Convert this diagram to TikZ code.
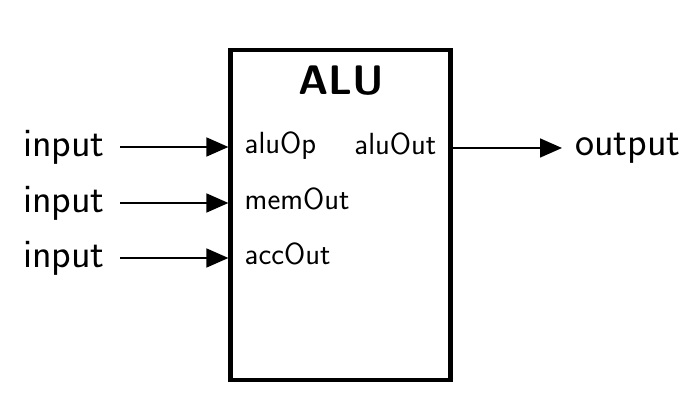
\documentclass[tikz,border=0pt]{standalone}
\usepackage{fontspec}
\usepackage{tikz}
\usetikzlibrary{positioning,calc,arrows.meta}

\begin{document}
\begin{tikzpicture}[
    font=\sffamily,
    block/.style={rectangle, draw, line width=2.4pt, minimum width=4.4cm, minimum height=6.6cm},
    port/.style={font=\sffamily\fontsize{17.4}{20}\selectfont, inner xsep=0.32cm, inner ysep=0pt, text height=1.8ex, text depth=0.2ex},
    io/.style={font=\sffamily\fontsize{23}{27}\selectfont, inner ysep=0pt},
    arrow/.style={-{Triangle[length=0.44cm, width=0.38cm]}, line width=0.9pt}
]
\useasboundingbox (0,0) rectangle (14,8.18);

% ALU block
\node[block] (alu) at (6.81, 3.88) {};
\node[font=\sffamily\bfseries\fontsize{23.5}{28}\selectfont] (title) at (6.82, 6.57) {ALU};

% Ports
\node[port, anchor=west] (aluOp) at (alu.west |- 0, 5.24) {aluOp};
\node[port, anchor=west] (memOut) at (alu.west |- 0, 4.12) {memOut};
\node[port, anchor=west] (accOut) at (alu.west |- 0, 3.02) {accOut};
\node[port, anchor=east] (aluOut) at (alu.east |- 0, 5.22) {aluOut};

% Inputs
\node[io, anchor=east, inner xsep=0.3cm] (in1) at (2.4, 5.24) {input};
\node[io, anchor=east, inner xsep=0.3cm] (in2) at (2.4, 4.12) {input};
\node[io, anchor=east, inner xsep=0.3cm] (in3) at (2.4, 3.02) {input};

% Output
\node[io, anchor=west, inner xsep=0.26cm] (out) at (11.24, 5.22) {output};

% Arrows
\draw[arrow] (in1.east) -- (aluOp.west);
\draw[arrow] (in2.east) -- (memOut.west);
\draw[arrow] (in3.east) -- (accOut.west);
\draw[arrow] (aluOut.east) -- (out.west);

\end{tikzpicture}
\end{document}
